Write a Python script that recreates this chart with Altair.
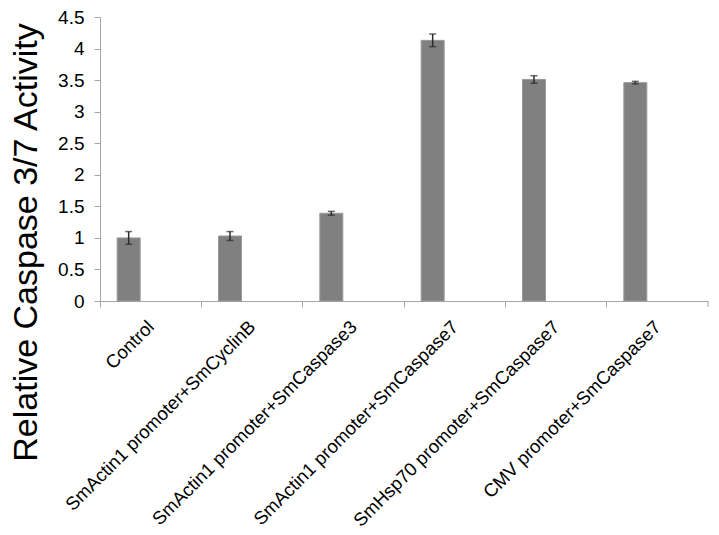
import altair as alt
import pandas as pd

categories = [
    "Control",
    "SmActin1 promoter+SmCyclinB",
    "SmActin1 promoter+SmCaspase3",
    "SmActin1 promoter+SmCaspase7",
    "SmHsp70 promoter+SmCaspase7",
    "CMV promoter+SmCaspase7",
]
values = [1.0, 1.03, 1.39, 4.13, 3.51, 3.46]
errors = [0.10, 0.07, 0.03, 0.10, 0.06, 0.02]
yticks = [0, 0.5, 1, 1.5, 2, 2.5, 3, 3.5, 4, 4.5]

df = pd.DataFrame({"cat": categories, "val": values, "err": errors})
df["lo"] = df["val"] - df["err"]
df["hi"] = df["val"] + df["err"]

W, H = 608, 284
FONT = "Liberation Sans"
AX = "#a6a6a6"

xaxis = alt.Axis(
    title=None,
    labelAngle=-45,
    labelAlign="right",
    labelBaseline="top",
    bandPosition=0,
    labelOffset=-6,
    labelPadding=10,
    labelLimit=0,
    labelOverlap=False,
    tickSize=6,
    labelFontSize=18.5,
    labelFont=FONT,
    labelColor="black",
    domainColor=AX,
    tickColor=AX,
)
xscale = alt.Scale(paddingInner=0, paddingOuter=0)


def xenc():
    return alt.X("cat:N", sort=categories, scale=xscale, axis=xaxis)


yscale = alt.Scale(domain=[0, 4.5], nice=False)
yaxis = alt.Axis(
    title="Relative Caspase 3/7 Activity",
    titleFontSize=34,
    titleFont=FONT,
    titleFontWeight="normal",
    titleColor="black",
    titleAngle=-90,
    titleX=-74,
    titleY=225,
    titleAlign="center",
    titleBaseline="middle",
    values=yticks,
    format="~g",
    labelOverlap=False,
    labelFontSize=19,
    labelFont=FONT,
    labelColor="black",
    labelPadding=10,
    tickSize=6,
    grid=False,
    domainColor=AX,
    tickColor=AX,
)


def yenc(field):
    return alt.Y(field, scale=yscale, axis=yaxis)


base = alt.Chart(df)

bars = base.mark_bar(width=23, xOffset=-22, color="#808080", stroke="#9a9a9a", strokeWidth=1).encode(
    x=xenc(),
    y=yenc("val:Q"),
)

err = base.mark_rule(xOffset=-22, color="#2b2b2b", strokeWidth=1.5).encode(
    x=xenc(),
    y=yenc("lo:Q"),
    y2="hi:Q",
)

cap_hi = base.mark_tick(xOffset=-22, color="#2b2b2b", size=7, thickness=1.5, orient="horizontal").encode(
    x=xenc(),
    y=yenc("hi:Q"),
)
cap_lo = base.mark_tick(xOffset=-22, color="#2b2b2b", size=7, thickness=1.5, orient="horizontal").encode(
    x=xenc(),
    y=yenc("lo:Q"),
)

end_tick = alt.Chart(pd.DataFrame({"a": [0]})).mark_rule(color=AX).encode(
    x=alt.value(W), y=alt.value(H), y2=alt.value(H + 6)
)

chart = (
    alt.layer(bars, err, cap_hi, cap_lo, end_tick)
    .properties(
        width=W,
        height=H,
        autosize=alt.AutoSizeParams(type="none"),
        padding={"left": 92, "top": 9, "right": 3, "bottom": 232},
    )
    .configure_view(stroke=None)
)

chart.save("out.html", embed_options={"renderer": "svg", "actions": False})
